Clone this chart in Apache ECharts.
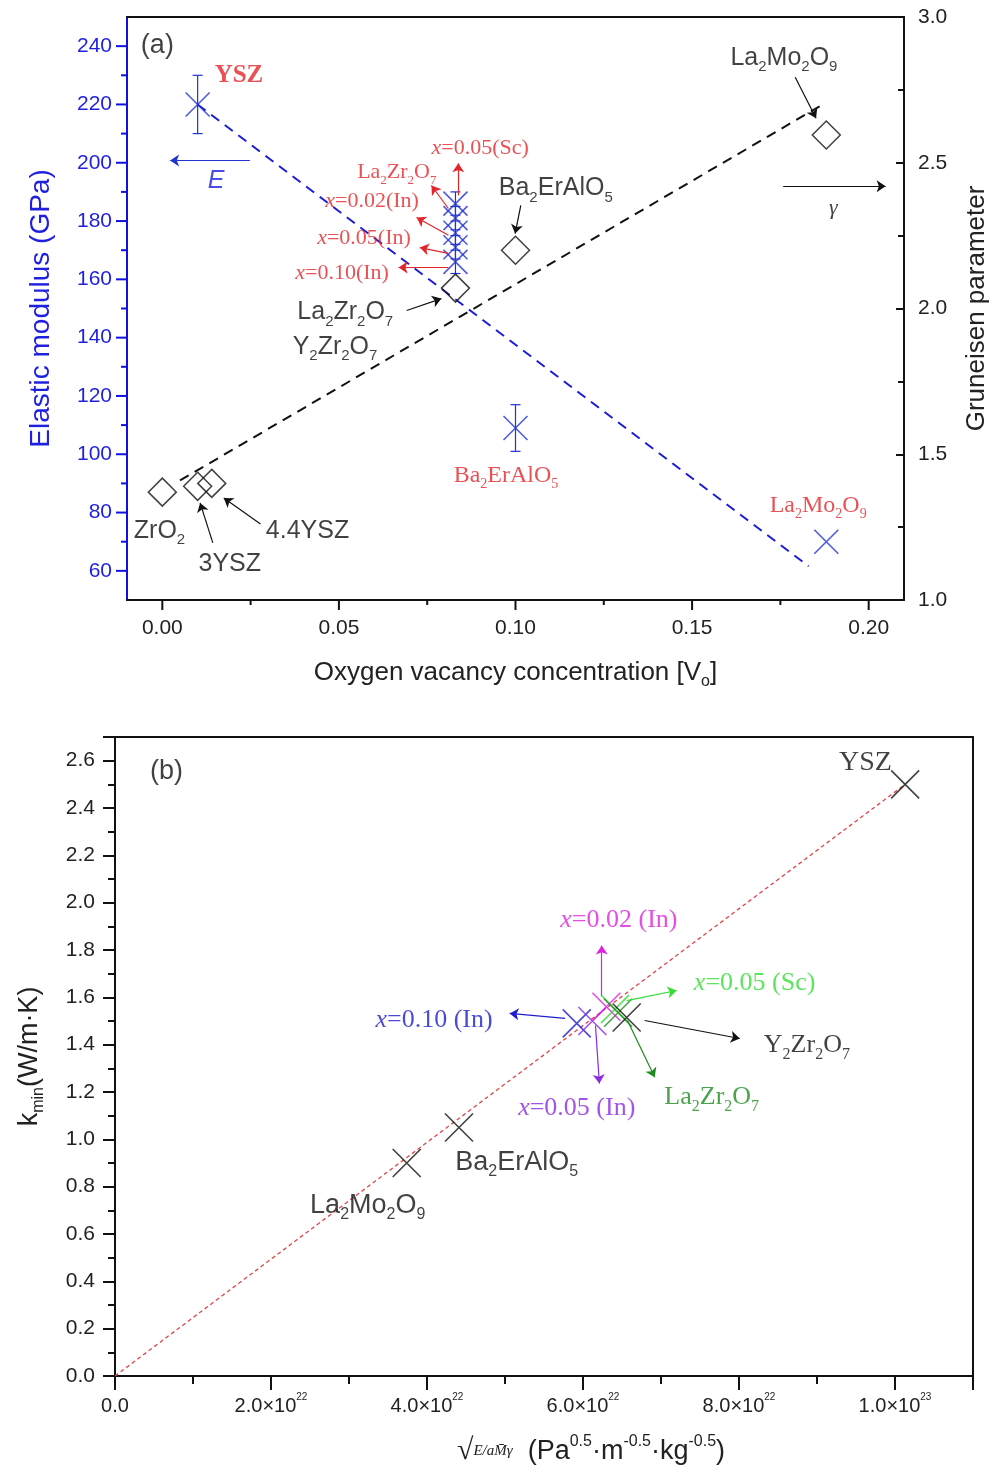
<!DOCTYPE html>
<html>
<head>
<meta charset="utf-8">
<script src="https://cdn.jsdelivr.net/npm/echarts@6/dist/echarts.min.js"></script>
<style>
  html, body { margin: 0; padding: 0; background: #fff; }
  #chart { width: 998px; height: 1482px; }
</style>
</head>
<body>
<div id="chart"></div>
<script>
// ---- panel (a): elastic modulus E (left) and Gruneisen γ (right) vs oxygen vacancy concentration
const eNames = ['YSZ', 'x=0.05(Sc)', 'La2Zr2O7', 'x=0.02(In)', 'x=0.05(In)', 'x=0.10(In)', 'Ba2ErAlO5', 'La2Mo2O9'];
const eVacancy = [0.010, 0.083, 0.083, 0.083, 0.083, 0.083, 0.100, 0.188];
const eModulus = [220, 186, 181, 176, 171, 166, 109, 70];
const eError = [10, 4, 4, 4, 4, 4, 8, 0];
const eFitVacancy = [0.010, 0.183];
const eFitModulus = [220, 61.6];

const gNames = ['ZrO2', '3YSZ', '4.4YSZ', 'La2Zr2O7 / Y2Zr2O7', 'Ba2ErAlO5', 'La2Mo2O9'];
const gVacancy = [0.000, 0.010, 0.014, 0.083, 0.100, 0.188];
const gGamma = [1.37, 1.39, 1.40, 2.07, 2.20, 2.595];
const gFitVacancy = [0.005, 0.187];
const gFitGamma = [1.41, 2.70];

const aXMajor = [0, 0.05, 0.10, 0.15, 0.20];
const aXMinor = [0.025, 0.075, 0.125, 0.175];
const aYMajor = [60, 80, 100, 120, 140, 160, 180, 200, 220, 240];
const aYMinor = [70, 90, 110, 130, 150, 170, 190, 210, 230];

// ---- panel (b): k_min vs sqrt(E / aMγ), x in units of 1e22
const kNames = ['La2Mo2O9', 'Ba2ErAlO5', 'x=0.10(In)', 'x=0.05(In)', 'x=0.02(In)', 'x=0.05(Sc)', 'La2Zr2O7', 'Y2Zr2O7', 'YSZ'];
const kRoot = [3.74, 4.41, 5.92, 6.12, 6.30, 6.41, 6.45, 6.56, 10.13];
const kMin = [0.90, 1.05, 1.49, 1.50, 1.56, 1.55, 1.535, 1.515, 2.50];
const kColors = ['#111', '#111', '#1d1dcc', '#8a2be2', '#e020e0', '#33dd33', '#1e8c1e', '#111', '#111'];
const kFitRoot = [0, 10.13];
const kFitMin = [0, 2.50];

const SANS = '"Liberation Sans", Arial, sans-serif';
const SERIF = '"Liberation Serif", "Times New Roman", serif';
const RED = '#e3262b';
const BLUE = '#2233d0';
const BLUE_TXT = '#1f1fe0';
const CROSS = 'path://M0,0L10,10M10,0L0,10';

function richStyles(font, size, color, bold) {
  const base = { fontFamily: font, fontSize: size, color: color, fontWeight: bold ? 'bold' : 'normal' };
  const small = Math.round(size * 0.6);
  return {
    m: Object.assign({}, base, { lineHeight: Math.round(size * 1.3) }),
    i: Object.assign({}, base, { fontStyle: 'italic', lineHeight: Math.round(size * 1.3) }),
    s: Object.assign({}, base, { fontSize: small, lineHeight: small, verticalAlign: 'bottom' }),
    p: Object.assign({}, base, { fontSize: small, lineHeight: small, verticalAlign: 'top' })
  };
}

// 'La_{2}Zr_{2}O_{7}' -> rich string; _ sub, ^ sup, ~ italic
function rich(str) {
  let out = '', last = 0;
  str.replace(/([_^~])\{([^}]*)\}/g, (m, k, t, idx) => {
    if (idx > last) out += '{m|' + str.slice(last, idx) + '}';
    out += '{' + ({ _: 's', '^': 'p', '~': 'i' })[k] + '|' + t + '}';
    last = idx + m.length;
  });
  if (last < str.length) out += '{m|' + str.slice(last) + '}';
  return out;
}

const annotA = [
  { t: '(a)', at: [-0.0014, 240.3], font: SANS, size: 27, color: '#111' },
  { t: 'YSZ', at: [0.0217, 230], font: SERIF, size: 25, color: RED, bold: true },
  { t: '~{E}', at: [0.0152, 193.6], font: SANS, size: 25, color: BLUE_TXT },
  { t: '~{γ}', at: [0.190, 184.3], font: SERIF, size: 22, color: '#111' },
  { t: 'La_{2}Mo_{2}O_{9}', at: [0.176, 235.9], font: SANS, size: 25, color: '#111' },
  { t: 'Ba_{2}ErAlO_{5}', at: [0.1114, 191.2], font: SANS, size: 25, color: '#111' },
  { t: 'La_{2}Zr_{2}O_{7}', at: [0.0518, 148.6], font: SANS, size: 25, color: '#111' },
  { t: 'Y_{2}Zr_{2}O_{7}', at: [0.0489, 136.9], font: SANS, size: 25, color: '#111' },
  { t: 'ZrO_{2}', at: [-0.0008, 73.7], font: SANS, size: 25, color: '#111' },
  { t: '3YSZ', at: [0.0191, 62.3], font: SANS, size: 25, color: '#111' },
  { t: '4.4YSZ', at: [0.0411, 73.7], font: SANS, size: 25, color: '#111' },
  { t: 'Ba_{2}ErAlO_{5}', at: [0.0973, 92.6], font: SERIF, size: 24, color: RED },
  { t: 'La_{2}Mo_{2}O_{9}', at: [0.1857, 82.3], font: SERIF, size: 24, color: RED },
  { t: '~{x}=0.05(Sc)', at: [0.090, 205.0], font: SERIF, size: 22, color: RED },
  { t: 'La_{2}Zr_{2}O_{7}', at: [0.0664, 196.7], font: SERIF, size: 22, color: RED },
  { t: '~{x}=0.02(In)', at: [0.0594, 186.7], font: SERIF, size: 22, color: RED },
  { t: '~{x}=0.05(In)', at: [0.0571, 174.0], font: SERIF, size: 22, color: RED },
  { t: '~{x}=0.10(In)', at: [0.0509, 162.0], font: SERIF, size: 22, color: RED }
];
const arrowsA = [
  { from: [0.0248, 200.8], to: [0.0022, 200.8], color: BLUE },
  { from: [0.1758, 191.9], to: [0.2048, 191.9], color: '#111' },
  { from: [0.1792, 229.3], to: [0.1851, 215.3], color: '#111' },
  { from: [0.1015, 185.4], to: [0.0999, 175.7], color: '#111' },
  { from: [0.0692, 149.3], to: [0.0790, 153.4], color: '#111' },
  { from: [0.0143, 69.6], to: [0.0107, 83.3], color: '#111' },
  { from: [0.0278, 76.1], to: [0.0174, 85.0], color: '#111' },
  { from: [0.0838, 188.8], to: [0.0838, 199.8], color: RED },
  { from: [0.0810, 184.3], to: [0.0762, 192.2], color: RED },
  { from: [0.0810, 175.1], to: [0.0720, 181.2], color: RED },
  { from: [0.0810, 168.9], to: [0.0729, 170.9], color: RED },
  { from: [0.0810, 164.1], to: [0.0669, 164.1], color: RED }
];

const annotB = [
  { t: '(b)', at: [0.66, 2.553], font: SANS, size: 27, color: '#111' },
  { t: 'YSZ', at: [9.62, 2.591], font: SERIF, size: 28, color: '#111' },
  { t: 'La_{2}Mo_{2}O_{9}', at: [3.24, 0.722], font: SANS, size: 27, color: '#111' },
  { t: 'Ba_{2}ErAlO_{5}', at: [5.15, 0.903], font: SANS, size: 27, color: '#111' },
  { t: '~{x}=0.10 (In)', at: [4.09, 1.502], font: SERIF, size: 26, color: '#1d1dcc' },
  { t: '~{x}=0.02 (In)', at: [6.46, 1.924], font: SERIF, size: 26, color: '#e020e0' },
  { t: '~{x}=0.05 (Sc)', at: [8.20, 1.658], font: SERIF, size: 26, color: '#33dd33' },
  { t: 'Y_{2}Zr_{2}O_{7}', at: [8.87, 1.397], font: SERIF, size: 26, color: '#111' },
  { t: 'La_{2}Zr_{2}O_{7}', at: [7.65, 1.177], font: SERIF, size: 26, color: '#1e8c1e' },
  { t: '~{x}=0.05 (In)', at: [5.92, 1.131], font: SERIF, size: 26, color: '#8a2be2' }
];
const arrowsB = [
  { from: [5.77, 1.511], to: [5.06, 1.532], color: '#1d1dcc' },
  { from: [6.24, 1.608], to: [6.24, 1.819], color: '#e020e0' },
  { from: [6.56, 1.586], to: [7.20, 1.629], color: '#33dd33' },
  { from: [6.79, 1.502], to: [8.01, 1.426], color: '#111' },
  { from: [6.57, 1.502], to: [6.92, 1.262], color: '#1e8c1e' },
  { from: [6.16, 1.481], to: [6.21, 1.236], color: '#8a2be2' }
];

function annotSeries(xi, yi, labels, arrows) {
  return {
    type: 'scatter', xAxisIndex: xi, yAxisIndex: yi, symbolSize: 1, silent: true, z: 6,
    itemStyle: { color: 'rgba(0,0,0,0)' },
    data: labels.map(a => ({
      value: a.at,
      label: { show: true, position: 'inside', formatter: rich(a.t), rich: richStyles(a.font, a.size, a.color, a.bold) }
    })),
    markLine: {
      silent: true, animation: false, symbol: ['none', 'arrow'], symbolSize: 9,
      label: { show: false },
      data: arrows.map(a => [{ coord: a.from, lineStyle: { color: a.color, width: 1.2, type: 'solid' } }, { coord: a.to }])
    }
  };
}

function tickSeries(xi, yi, values, axis, base, len, color) {
  return {
    type: 'custom', xAxisIndex: xi, yAxisIndex: yi, silent: true, clip: false, z: 4,
    data: values.map(v => axis === 'x' ? [v, base] : [base, v]),
    renderItem: (params, api) => {
      const pt = api.coord([api.value(0), api.value(1)]);
      const shape = axis === 'x'
        ? { x1: pt[0], y1: pt[1], x2: pt[0], y2: pt[1] + len }
        : { x1: pt[0], y1: pt[1], x2: pt[0] - len, y2: pt[1] };
      return { type: 'line', shape: shape, style: { stroke: color, lineWidth: 2 } };
    }
  };
}

const lineOnly = { axisTick: { show: false }, axisLabel: { show: false }, splitLine: { show: false },
  axisLine: { show: true, onZero: false, lineStyle: { color: '#111', width: 2 } } };
const tickFont = { fontFamily: SANS, fontSize: 21, color: '#222' };

const chart = echarts.init(document.getElementById('chart'));
chart.setOption({
  animation: false,
  backgroundColor: '#fff',
  grid: [
    { left: 127, top: 17, width: 782, height: 583 },
    { left: 115, top: 737, width: 858, height: 639 }
  ],
  xAxis: [
    {
      type: 'value', gridIndex: 0, min: -0.01, max: 0.21, interval: 0.01,
      axisLine: { onZero: false, lineStyle: { color: '#111', width: 2 } }, axisTick: { show: false }, splitLine: { show: false },
      axisLabel: Object.assign({ margin: 18, formatter: v => { const n = Math.round(v * 100); return n % 5 === 0 ? (n / 100).toFixed(2) : ''; } }, tickFont),
      name: rich('Oxygen vacancy concentration [V_{o}]'), nameLocation: 'middle', nameGap: 56,
      nameTextStyle: { rich: richStyles(SANS, 26, '#222') }
    },
    Object.assign({ type: 'value', gridIndex: 0, position: 'top', min: -0.01, max: 0.21 }, lineOnly),
    {
      type: 'value', gridIndex: 1, min: 0, max: 11, interval: 2,
      axisLine: { onZero: false, lineStyle: { color: '#111', width: 2 } }, splitLine: { show: false },
      axisTick: { length: 14, lineStyle: { width: 2, color: '#111' } },
      minorTick: { show: true, splitNumber: 2, length: 8, lineStyle: { width: 2, color: '#111' } },
      axisLabel: {
        margin: 16,
        formatter: v => {
          if (v === 0) return '{a|0.0}';
          if (v % 2 !== 0) return '';
          const exp = v >= 10 ? 23 : 22;
          const mant = v >= 10 ? v / 10 : v;
          return '{a|' + mant.toFixed(1) + '×10}{p|' + exp + '}';
        },
        rich: {
          a: { fontFamily: SANS, fontSize: 20, color: '#222', lineHeight: 28 },
          p: { fontFamily: SANS, fontSize: 10, color: '#222', lineHeight: 10, verticalAlign: 'top' }
        }
      },
      name: '{f|√}{g|E/aM̄γ}' + rich('  (Pa^{0.5}·m^{-0.5}·kg^{-0.5})'),
      nameLocation: 'middle', nameGap: 58,
      nameTextStyle: {
        padding: [0, 0, 0, 94],
        rich: Object.assign(richStyles(SANS, 27, '#222'), {
          f: { fontFamily: SERIF, fontSize: 30, color: '#222', lineHeight: 35 },
          g: { fontFamily: SERIF, fontStyle: 'italic', fontSize: 15, color: '#222', lineHeight: 35 }
        })
      }
    },
    Object.assign({ type: 'value', gridIndex: 1, position: 'top', min: 0, max: 11 }, lineOnly)
  ],
  yAxis: [
    {
      type: 'value', gridIndex: 0, position: 'left', min: 50, max: 250, interval: 10,
      axisLine: { show: true, onZero: false, lineStyle: { color: '#1010e0', width: 2 } }, axisTick: { show: false }, splitLine: { show: false },
      axisLabel: { margin: 15, fontFamily: SANS, fontSize: 21, color: BLUE_TXT, formatter: v => v % 20 === 0 ? String(v) : '' },
      name: 'Elastic modulus (GPa)', nameLocation: 'middle', nameGap: 72,
      nameTextStyle: { fontFamily: SANS, fontSize: 28, color: BLUE_TXT }
    },
    {
      type: 'value', gridIndex: 0, position: 'right', min: 1, max: 3, interval: 0.5,
      axisLine: { show: true, onZero: false, lineStyle: { color: '#111', width: 2 } }, splitLine: { show: false },
      axisTick: { inside: true, length: 8, lineStyle: { width: 2, color: '#111' } },
      minorTick: { show: true, splitNumber: 2, length: 6, lineStyle: { width: 2, color: '#111' } },
      axisLabel: Object.assign({ margin: 14, formatter: v => v.toFixed(1) }, tickFont),
      name: 'Gruneisen parameter', nameLocation: 'middle', nameGap: 60,
      nameTextStyle: { fontFamily: SANS, fontSize: 26, color: '#222' }
    },
    {
      type: 'value', gridIndex: 1, position: 'left', min: 0, max: 2.7, interval: 0.2,
      axisLine: { show: true, onZero: false, lineStyle: { color: '#111', width: 2 } }, splitLine: { show: false },
      axisTick: { length: 12, lineStyle: { width: 2, color: '#111' } },
      minorTick: { show: true, splitNumber: 2, length: 7, lineStyle: { width: 2, color: '#111' } },
      axisLabel: Object.assign({ margin: 20, formatter: v => Math.abs(v - 2.7) < 1e-6 ? '' : v.toFixed(1) }, tickFont),
      name: rich('k_{min}(W/m·K)'), nameLocation: 'middle', nameGap: 68,
      nameTextStyle: { rich: richStyles(SANS, 27, '#222') }
    },
    Object.assign({ type: 'value', gridIndex: 1, position: 'right', min: 0, max: 2.7 }, lineOnly)
  ],
  series: [
    tickSeries(0, 0, aXMajor, 'x', 50, 10, '#111'),
    tickSeries(0, 0, aXMinor, 'x', 50, 5, '#111'),
    tickSeries(0, 0, aYMajor, 'y', -0.01, 11, '#1010e0'),
    tickSeries(0, 0, aYMinor, 'y', -0.01, 6, '#1010e0'),
    {
      name: 'E fit', type: 'line', xAxisIndex: 0, yAxisIndex: 0, symbol: 'none', silent: true,
      data: eFitVacancy.map((v, i) => [v, eFitModulus[i]]),
      lineStyle: { color: '#1a1ad8', width: 2, type: [10, 7] }
    },
    {
      name: 'γ fit', type: 'line', xAxisIndex: 0, yAxisIndex: 1, symbol: 'none', silent: true,
      data: gFitVacancy.map((v, i) => [v, gFitGamma[i]]),
      lineStyle: { color: '#111', width: 2, type: [10, 7] }
    },
    {
      name: 'E error', type: 'custom', xAxisIndex: 0, yAxisIndex: 0, silent: true, z: 3,
      data: eVacancy.map((v, i) => [v, eModulus[i] - eError[i], eModulus[i] + eError[i]]).filter((d, i) => eError[i] > 0),
      renderItem: (params, api) => {
        const lo = api.coord([api.value(0), api.value(1)]);
        const hi = api.coord([api.value(0), api.value(2)]);
        const w = 5, st = { stroke: BLUE, lineWidth: 1.2 };
        return {
          type: 'group', children: [
            { type: 'line', shape: { x1: lo[0], y1: lo[1], x2: hi[0], y2: hi[1] }, style: st },
            { type: 'line', shape: { x1: lo[0] - w, y1: lo[1], x2: lo[0] + w, y2: lo[1] }, style: st },
            { type: 'line', shape: { x1: hi[0] - w, y1: hi[1], x2: hi[0] + w, y2: hi[1] }, style: st }
          ]
        };
      }
    },
    {
      name: 'E', type: 'scatter', xAxisIndex: 0, yAxisIndex: 0, symbol: CROSS, symbolSize: 24, z: 4,
      data: eVacancy.map((v, i) => ({ name: eNames[i], value: [v, eModulus[i]] })),
      itemStyle: { color: 'none', borderColor: BLUE, borderWidth: 1.6 }
    },
    {
      name: 'γ', type: 'scatter', xAxisIndex: 0, yAxisIndex: 1, symbol: 'diamond', symbolSize: 28, z: 5,
      data: gVacancy.map((v, i) => ({ name: gNames[i], value: [v, gGamma[i]] })),
      itemStyle: { color: 'none', borderColor: '#111', borderWidth: 1.5 }
    },
    annotSeries(0, 0, annotA, arrowsA),
    {
      name: 'k fit', type: 'line', xAxisIndex: 2, yAxisIndex: 2, symbol: 'none', silent: true,
      data: kFitRoot.map((v, i) => [v, kFitMin[i]]),
      lineStyle: { color: '#e0454a', width: 1.3, type: [4, 3] }
    },
    {
      name: 'k_min', type: 'scatter', xAxisIndex: 2, yAxisIndex: 2, symbol: CROSS, symbolSize: 28, z: 4,
      data: kRoot.map((v, i) => ({
        name: kNames[i], value: [v, kMin[i]],
        itemStyle: { color: 'none', borderColor: kColors[i], borderWidth: 1.6 }
      }))
    },
    annotSeries(2, 2, annotB, arrowsB)
  ]
});
</script>
</body>
</html>
